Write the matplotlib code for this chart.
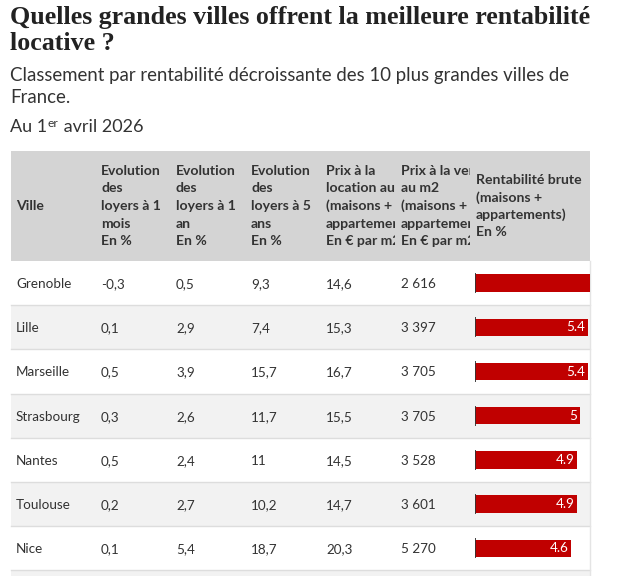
import matplotlib
matplotlib.use("Agg")
import matplotlib.pyplot as plt
from matplotlib.patches import Rectangle
from matplotlib.transforms import Bbox, TransformedBbox

# --- data ---
title_lines = ["Quelles grandes villes offrent la meilleure rentabilité", "locative ?"]
subtitle_lines = ["Classement par rentabilité décroissante des 10 plus grandes villes de",
                  "France."]
headers = [
    ["Ville"],
    ["Evolution", "des", "loyers à 1", "mois", "En %"],
    ["Evolution", "des", "loyers à 1", "an", "En %"],
    ["Evolution", "des", "loyers à 5", "ans", "En %"],
    ["Prix à la", "location au m2", "(maisons +", "appartements)", "En € par m2"],
    ["Prix à la vente", "au m2", "(maisons +", "appartements)", "En € par m2"],
    ["Rentabilité brute", "(maisons +", "appartements)", "En %"],
]
villes = ["Grenoble", "Lille", "Marseille", "Strasbourg", "Nantes", "Toulouse", "Nice"]
evol_1_mois = [-0.3, 0.1, 0.5, 0.3, 0.5, 0.2, 0.1]
evol_1_an = [0.5, 2.9, 3.9, 2.6, 2.4, 2.7, 5.4]
evol_5_ans = [9.3, 7.4, 15.7, 11.7, 11, 10.2, 18.7]
prix_location = [14.6, 15.3, 16.7, 15.5, 14.5, 14.7, 20.3]
prix_vente = [2616, 3397, 3705, 3705, 3528, 3601, 5270]
rentabilite = [6.7, 5.4, 5.4, 5.0, 4.9, 4.9, 4.6]

W, H = 621, 576
fig = plt.figure(figsize=(W / 100, H / 100), dpi=100)
ax = fig.add_axes([0, 0, 1, 1])
ax.set_xlim(0, W)
ax.set_ylim(H, 0)
ax.axis("off")

SANS = "Lato"
TXT = "#333333"

def pt(px):
    return px * 72 / 100

# title
ax.text(10, 24, title_lines[0], fontfamily="Liberation Serif", fontweight="bold",
        fontsize=pt(26), color="#222222", va="baseline")
ax.text(10, 50, title_lines[1], fontfamily="Liberation Serif", fontweight="bold",
        fontsize=pt(26), color="#222222", va="baseline")

# subtitle
ax.text(10, 81, subtitle_lines[0], fontfamily=SANS, fontsize=pt(18.6), color=TXT, va="baseline")
ax.text(10, 103, subtitle_lines[1], fontfamily=SANS, fontsize=pt(18.6), color=TXT, va="baseline")
t1 = ax.text(10, 132, "Au 1", fontfamily=SANS, fontsize=pt(18), color=TXT, va="baseline")
t2 = ax.annotate("er", xy=(1, 1), xycoords=t1, xytext=(0.5, 1), textcoords="offset points",
                 fontfamily=SANS, fontsize=pt(12), color=TXT, va="top", ha="left")
ax.annotate(" avril 2026", xy=(1, 0), xycoords=(t2, t1), fontfamily=SANS,
            fontsize=pt(18), color=TXT, va="bottom", ha="left")

# table layout
left, right = 11, 590
head_top, head_bot = 151, 261
row_h = 44.2
cell_x = [11, 96, 171, 246, 321, 396, 471, 590]
pad = 5

ax.add_patch(Rectangle((left, head_top), right - left, head_bot - head_top,
                       facecolor="#d4d4d4", edgecolor="none"))

n_rows = len(villes) + 1
for i in range(n_rows):
    y0 = head_bot + i * row_h
    if i % 2 == 1:
        ax.add_patch(Rectangle((left, y0), right - left, row_h,
                               facecolor="#f2f2f2", edgecolor="none"))
    ax.plot([left, right], [y0 + row_h, y0 + row_h], color="#dddddd", lw=1)
ax.plot([right, right], [head_bot, H], color="#e4e4e4", lw=1)

# header text, clipped to its column like the reference
head_mid = 206
for c, lines in enumerate(headers):
    box = TransformedBbox(Bbox.from_extents(cell_x[c], head_top, cell_x[c + 1] - 1, head_bot),
                          ax.transData)
    n = len(lines)
    for k, line in enumerate(lines):
        t = ax.text(cell_x[c] + pad, head_mid + (k - (n - 1) / 2) * 17.6, line,
                    fontfamily=SANS, fontweight="bold", fontsize=pt(14), color=TXT,
                    va="center", ha="left")
        t.set_clip_box(box)
        t.set_clip_on(True)

def fr(v):
    return f"{v:g}".replace(".", ",")

def milliers(v):
    return format(v, ",").replace(",", " ")

columns = [villes,
           [fr(v) for v in evol_1_mois],
           [fr(v) for v in evol_1_an],
           [fr(v) for v in evol_5_ans],
           [fr(v) for v in prix_location],
           [milliers(v) for v in prix_vente]]
for c, col in enumerate(columns):
    for i, s in enumerate(col):
        ax.text(cell_x[c] + pad, head_bot + (i + 0.5) * row_h + 1, s, fontfamily=SANS,
                fontsize=pt(13.5), color=TXT, va="center", ha="left")

# bar column
bx0, bx1 = 475, right
axb = fig.add_axes([bx0 / W, 0, (bx1 - bx0) / W, (H - head_bot) / H])
axb.set_xlim(0, (bx1 - bx0) / 20.9)
axb.set_ylim(-0.5 + (H - head_bot) / row_h, -0.5)
axb.axis("off")
axb.patch.set_alpha(0)
ypos = list(range(len(villes)))
axb.barh(ypos, rentabilite, height=0.39, color="#c00000")
for y in ypos:
    axb.plot([0, 0], [y - 0.23, y + 0.23], color="#333333", lw=1.3, solid_capstyle="butt")
for y, v in zip(ypos, rentabilite):
    axb.text(v - 0.12, y, f"{v:g}", color="white", fontfamily=SANS, fontsize=pt(13.5),
             va="center", ha="right", clip_on=True)

fig.savefig("out.png", dpi=100)
